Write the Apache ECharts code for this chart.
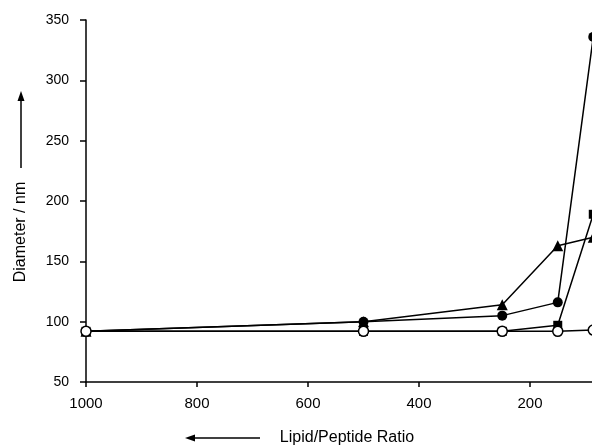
<!DOCTYPE html>
<html>
<head>
<meta charset="utf-8">
<script src="https://cdn.jsdelivr.net/npm/echarts@6/dist/echarts.min.js"></script>
<style>html,body{margin:0;padding:0;background:#fff;overflow:hidden;width:592px;height:448px;}#c{width:660px;height:448px;}</style>
</head>
<body>
<div id="c"></div>
<script>
const ratios = [1000, 500, 250, 150, 86];
const filledCircle = [92, 100, 105, 116, 336];
const triangle = [92, 100, 114, 163, 170];
const square = [92, 92, 92, 97, 189];
const openCircle = [92, 92, 92, 92, 93];
const xTicks = [0, 200, 400, 600, 800, 1000];
const yTicks = [50, 100, 150, 200, 250, 300, 350];

const pair = arr => ratios.map((x, i) => [x, arr[i]]);
const font = 'Liberation Sans, Arial, sans-serif';
const lineBase = { type: 'line', showSymbol: true, clip: true, lineStyle: { color: '#000', width: 1.5 }, animation: false };

const chart = echarts.init(document.getElementById('c'), null, { renderer: 'canvas' });
chart.setOption({
  backgroundColor: '#fff',
  animation: false,
  grid: { left: 86, top: 20, width: 555, height: 362, containLabel: false },
  xAxis: {
    type: 'value', inverse: true, min: xTicks[0], max: xTicks[xTicks.length - 1], interval: 200,
    axisLine: { onZero: false, lineStyle: { color: '#000', width: 1.5 } },
    axisTick: { inside: false, length: 5, lineStyle: { color: '#000', width: 1.5 } },
    axisLabel: { color: '#000', fontSize: 15, fontFamily: font, margin: 14, formatter: v => String(v) },
    splitLine: { show: false }
  },
  yAxis: {
    type: 'value', position: 'left', min: yTicks[0], max: yTicks[yTicks.length - 1], interval: 50,
    axisLine: { show: true, onZero: false, lineStyle: { color: '#000', width: 1.5 } },
    axisTick: { show: true, inside: false, length: 6, lineStyle: { color: '#000', width: 1.5 } },
    axisLabel: { color: '#000', fontSize: 14, fontFamily: font, margin: 17 },
    splitLine: { show: false }
  },
  series: [
    Object.assign({}, lineBase, { name: 'square', data: pair(square), symbol: 'rect', symbolSize: 9, itemStyle: { color: '#000' } }),
    Object.assign({}, lineBase, { name: 'triangle', data: pair(triangle), symbol: 'triangle', symbolSize: 11, itemStyle: { color: '#000' } }),
    Object.assign({}, lineBase, { name: 'filled', data: pair(filledCircle), symbol: 'circle', symbolSize: 10, itemStyle: { color: '#000' } }),
    Object.assign({}, lineBase, { name: 'open', data: pair(openCircle), symbol: 'circle', symbolSize: 10, itemStyle: { color: '#fff', borderColor: '#000', borderWidth: 1.5 } })
  ],
  graphic: [
    { type: 'text', x: 21, y: 232, rotation: Math.PI / 2, style: { text: 'Diameter / nm', font: '16px ' + font, fill: '#000', align: 'center', verticalAlign: 'middle' } },
    { type: 'line', shape: { x1: 21, y1: 168, x2: 21, y2: 98 }, style: { stroke: '#000', lineWidth: 1.5 } },
    { type: 'polygon', shape: { points: [[21, 91], [17.5, 101], [24.5, 101]] }, style: { fill: '#000' } },
    { type: 'text', x: 347, y: 438, style: { text: 'Lipid/Peptide Ratio', font: '16px ' + font, fill: '#000', align: 'center', verticalAlign: 'middle' } },
    { type: 'line', shape: { x1: 260, y1: 438, x2: 192, y2: 438 }, style: { stroke: '#000', lineWidth: 1.5 } },
    { type: 'polygon', shape: { points: [[185, 438], [195, 434.5], [195, 441.5]] }, style: { fill: '#000' } }
  ]
});
</script>
</body>
</html>
